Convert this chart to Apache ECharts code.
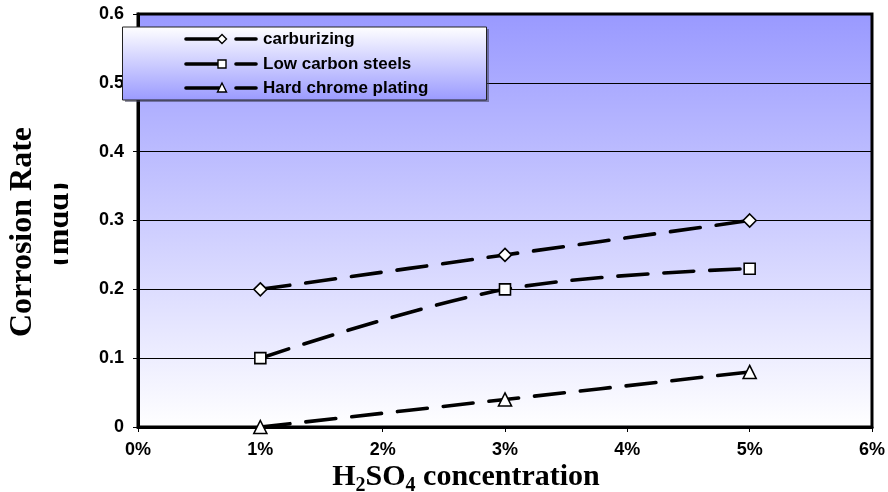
<!DOCTYPE html>
<html>
<head>
<meta charset="utf-8">
<script src="https://cdn.jsdelivr.net/npm/echarts@6/dist/echarts.min.js"></script>
<style>
  html, body { margin: 0; padding: 0; background: #ffffff; }
  #chart { width: 888px; height: 492px; }
</style>
</head>
<body>
<div id="chart"></div>
<script>
// H2SO4 concentration (%) at which each coating was tested
const concentrations = [1, 3, 5];
// Corrosion rate (mdd)
const carburizing = [0.2, 0.25, 0.3];
const lowCarbonSteels = [0.1, 0.2, 0.23];
const hardChromePlating = [0, 0.04, 0.08];
const seriesNames = ['carburizing', 'Low carbon steels', 'Hard chrome plating'];
const xTicks = [0, 1, 2, 3, 4, 5, 6];
const yTicks = [0, 0.1, 0.2, 0.3, 0.4, 0.5, 0.6];

const chart = echarts.init(document.getElementById('chart'), null, { renderer: 'canvas' });

const GRID = { left: 138, right: 13, top: 14, bottom: 65 };
const SANS = '"Liberation Sans", Arial, sans-serif';
const SERIF = '"Liberation Serif", "Times New Roman", serif';

function pairs(ys) { return concentrations.map((x, i) => [x, ys[i]]); }

function lineSeries(name, ys, symbol, size) {
  return {
    name: name,
    type: 'line',
    data: pairs(ys),
    smooth: 0.35,
    symbol: symbol,
    symbolSize: size,
    showSymbol: true,
    clip: false,
    lineStyle: { color: '#000', width: 3.6, type: [30, 16], cap: 'round' },
    itemStyle: { color: '#fff', borderColor: '#000', borderWidth: 1.6 },
    emphasis: { disabled: true },
    z: 3
  };
}

// Axis title pieces measured so the subscripts sit in line with the rest
const measureCtx = document.createElement('canvas').getContext('2d');
function textWidth(str, font) { measureCtx.font = font; return measureCtx.measureText(str).width; }
const BIG = 30, SUB = 20;
const bigFont = 'bold ' + BIG + 'px ' + SERIF;
const subFont = 'bold ' + SUB + 'px ' + SERIF;
const titleBaseline = 487;
const titleParts = [
  { t: 'H', f: bigFont, size: BIG, drop: 0 },
  { t: '2', f: subFont, size: SUB, drop: 6 },
  { t: 'SO', f: bigFont, size: BIG, drop: 0 },
  { t: '4', f: subFont, size: SUB, drop: 6 },
  { t: ' concentration', f: bigFont, size: BIG, drop: 0 }
];
const totalW = titleParts.reduce((s, p) => s + textWidth(p.t, p.f), 0);
let cursor = 466 - totalW / 2;
const xTitle = titleParts.map(p => {
  const el = {
    type: 'text',
    x: cursor,
    // 'middle' sits about a third of the font size above the baseline
    y: titleBaseline + p.drop - 0.34 * p.size,
    style: {
      text: p.t, fontFamily: SERIF, fontWeight: 'bold', fontSize: p.size,
      fill: '#000', align: 'left', verticalAlign: 'middle'
    },
    z: 10
  };
  cursor += textWidth(p.t, p.f);
  return el;
});

// Legend panel
const legendRows = [
  { name: seriesNames[0], y: 39, mark: 'diamond' },
  { name: seriesNames[1], y: 64, mark: 'rect' },
  { name: seriesNames[2], y: 88, mark: 'triangle' }
];
function legendMark(kind, cx, cy) {
  const st = { fill: '#fff', stroke: '#000', lineWidth: 1.4 };
  if (kind === 'diamond') {
    return { type: 'polygon', shape: { points: [[cx, cy - 4.5], [cx + 4.5, cy], [cx, cy + 4.5], [cx - 4.5, cy]] }, style: st, z: 22 };
  }
  if (kind === 'rect') {
    return { type: 'rect', shape: { x: cx - 4, y: cy - 4, width: 8, height: 8 }, style: st, z: 22 };
  }
  return { type: 'polygon', shape: { points: [[cx, cy - 5], [cx + 4.5, cy + 4], [cx - 4.5, cy + 4]] }, style: st, z: 22 };
}
const legendEls = [
  { type: 'rect', shape: { x: 125, y: 29, width: 364, height: 73 }, style: { fill: 'rgba(60,60,90,0.55)' }, z: 19 },
  {
    type: 'rect', shape: { x: 122.5, y: 27, width: 364, height: 73 },
    style: {
      fill: new echarts.graphic.LinearGradient(0, 0, 0, 1, [
        { offset: 0, color: '#ffffff' },
        { offset: 1, color: '#9a9aff' }
      ]),
      stroke: '#222', lineWidth: 1
    },
    z: 20
  }
];
legendRows.forEach(r => {
  legendEls.push({ type: 'line', shape: { x1: 186, y1: r.y, x2: 219, y2: r.y }, style: { stroke: '#000', lineWidth: 3.6, lineCap: 'round' }, z: 21 });
  legendEls.push(legendMark(r.mark, 222, r.y));
  legendEls.push({ type: 'line', shape: { x1: 236, y1: r.y, x2: 256, y2: r.y }, style: { stroke: '#000', lineWidth: 3.6, lineCap: 'round' }, z: 21 });
  legendEls.push({
    type: 'text', x: 263, y: r.y,
    style: { text: r.name, fontFamily: SANS, fontWeight: 'bold', fontSize: 17, fill: '#000', align: 'left', verticalAlign: 'middle' },
    z: 22
  });
});

// Vertical axis title, second line partly hidden
const yTitle = [
  {
    type: 'text', x: 23, y: 232, rotation: Math.PI / 2,
    style: { text: 'Corrosion Rate', fontFamily: SERIF, fontWeight: 'bold', fontSize: 32, fill: '#000', align: 'center', verticalAlign: 'middle' },
    z: 10
  },
  {
    type: 'text', x: 60, y: 224, rotation: Math.PI / 2,
    style: { text: '(mdd)', fontFamily: SERIF, fontWeight: 'bold', fontSize: 32, fill: '#000', align: 'center', verticalAlign: 'middle' },
    z: 10
  },
  { type: 'rect', shape: { x: 37, y: 170, width: 17, height: 110 }, style: { fill: '#fff' }, z: 11 },
  { type: 'rect', shape: { x: 68, y: 170, width: 14, height: 110 }, style: { fill: '#fff' }, z: 11 }
];

const option = {
  animation: false,
  backgroundColor: '#ffffff',
  grid: {
    left: GRID.left, right: GRID.right, top: GRID.top, bottom: GRID.bottom,
    show: true,
    backgroundColor: new echarts.graphic.LinearGradient(0, 0, 0, 1, [
      { offset: 0, color: '#9999ff' },
      { offset: 1, color: '#ffffff' }
    ]),
    borderColor: '#000',
    borderWidth: 3
  },
  xAxis: {
    type: 'value',
    min: xTicks[0], max: xTicks[xTicks.length - 1], interval: 1,
    axisLine: { show: true, lineStyle: { color: '#000', width: 3 } },
    axisTick: { show: true, inside: false, length: 5, lineStyle: { color: '#000', width: 1 } },
    axisLabel: {
      margin: 14, color: '#000', fontFamily: SANS, fontWeight: 'bold', fontSize: 18,
      formatter: v => v + '%'
    },
    splitLine: { show: false }
  },
  yAxis: {
    type: 'value',
    min: yTicks[0], max: yTicks[yTicks.length - 1], interval: 0.1,
    axisLine: { show: true, lineStyle: { color: '#000', width: 3 } },
    axisTick: { show: true, inside: false, length: 5, lineStyle: { color: '#000', width: 1 } },
    axisLabel: {
      margin: 14, color: '#000', fontFamily: SANS, fontWeight: 'bold', fontSize: 18,
      formatter: v => (Math.round(v * 10) / 10).toString()
    },
    splitLine: { show: true, lineStyle: { color: '#000', width: 1 } }
  },
  series: [
    lineSeries(seriesNames[0], carburizing, 'diamond', 13),
    lineSeries(seriesNames[1], lowCarbonSteels, 'rect', 11),
    lineSeries(seriesNames[2], hardChromePlating, 'triangle', 13)
  ],
  graphic: { elements: yTitle.concat(xTitle, legendEls) }
};

chart.setOption(option);
</script>
</body>
</html>
